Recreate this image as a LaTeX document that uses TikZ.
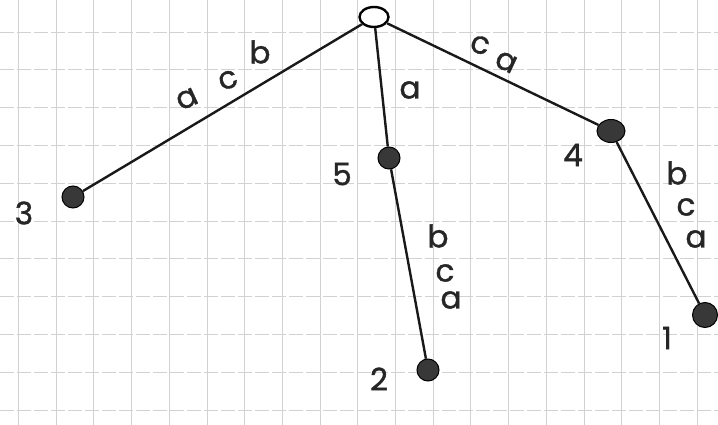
\documentclass[tikz,border=0pt]{standalone}
\usepackage{fontspec}
\newfontfamily\hand[FakeBold=1.2]{Poppins}
\usetikzlibrary{shapes.geometric}
\begin{document}
\begin{tikzpicture}[x=1pt,y=-1pt,
  leaf/.style={circle,fill=black!78,draw=black,line width=1pt,minimum size=22pt,inner sep=0pt},
  edge/.style={line width=2.4pt,black!90},
  lbl/.style={font=\hand\fontsize{31}{31}\selectfont,text=black!85,inner sep=0pt},
  gridline/.style={line width=0.9pt,color=gray!35}]
\useasboundingbox (0,0) rectangle (718,425);
\fill[white] (0,0) rectangle (718,425);
\foreach \k in {0,...,18} {\draw[gridline] ({18.5+37.7*\k},0) -- ({18.5+37.7*\k},425);}
\foreach \k in {0,...,10} {\draw[gridline,dash pattern=on 14pt off 3pt] (0,{32+37.8*\k}) -- (718,{32+37.8*\k});}
\node[ellipse,draw=black,line width=2.4pt,fill=white,minimum width=29pt,minimum height=20pt,inner sep=0pt] (r) at (374,17) {};
\node[leaf] (n3) at (73,197) {};
\node[leaf] (n5) at (389,158) {};
\node[leaf,ellipse,minimum width=28pt,minimum height=23pt] (n4) at (611,131) {};
\node[leaf] (n2) at (428,370) {};
\node[leaf,minimum size=25pt] (n1) at (705,315) {};
\draw[edge] (r) -- (n3);
\draw[edge] (r) -- (n5);
\draw[edge] (r) -- (n4);
\draw[edge] (n5) -- (n2);
\draw[edge] (n4) -- (n1);
\node[lbl] (l3) at (24,213) {3};
\node[lbl] (l5) at (342,174) {5};
\node[lbl] (l4) at (573,155) {4};
\node[lbl] (l2) at (379,379) {2};
\node[lbl] (l1) at (667,338) {1};
\node[lbl,rotate=25] (ea1) at (187,99) {a};
\node[lbl,rotate=20] (ec1) at (228,80) {c};
\node[lbl] (eb1) at (260,52) {b};
\node[lbl] (ea2) at (410,90) {a};
\node[lbl,rotate=-15] (ec2) at (480,45) {c};
\node[lbl,rotate=-25] (ea3) at (506,62) {a};
\node[lbl] (eb4) at (677,173) {b};
\node[lbl] (ec4) at (686,207) {c};
\node[lbl] (ea4) at (696,239) {a};
\node[lbl] (eb5) at (438,236) {b};
\node[lbl] (ec5) at (445,273) {c};
\node[lbl] (ea5) at (451,300) {a};
\end{tikzpicture}
\end{document}
